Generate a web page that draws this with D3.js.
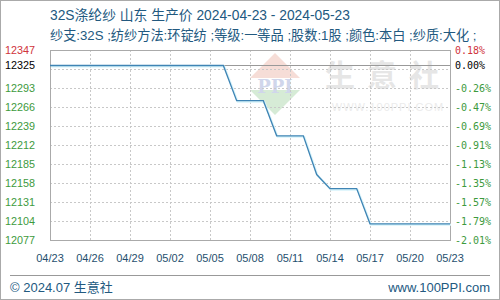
<!DOCTYPE html>
<html>
<head>
<meta charset="utf-8">
<script src="https://cdn.jsdelivr.net/npm/d3@7"></script>
<style>
  body { margin: 0; background: #fff; }
  svg { display: block; }
</style>
</head>
<body>
<svg width="500" height="300"></svg>
<script>
// data
var startDate = "2024-04-23";
var prices = [12325, 12325, 12325, 12325, 12325, 12325, 12325, 12325, 12325, 12325,
              12325, 12325, 12325, 12325, 12275, 12275, 12275, 12225, 12225, 12225,
              12170, 12150, 12150, 12150, 12100, 12100, 12100, 12100, 12100, 12100, 12100];
var yTicks = [12077, 12104, 12131, 12158, 12185, 12212, 12239, 12266, 12293, 12320, 12347];
// labelled values on both sides (12325 is the start price, 12320 has no label)
var yLabelVals = [12347, 12325, 12293, 12266, 12239, 12212, 12185, 12158, 12131, 12104, 12077];
var pctLabels = ["0.18%", "0.00%", "-0.26%", "-0.47%", "-0.69%", "-0.91%", "-1.13%", "-1.35%", "-1.57%", "-1.79%", "-2.01%"];
var xTickLabels = ["04/23", "04/26", "04/29", "05/02", "05/05", "05/08", "05/11", "05/14", "05/17", "05/20", "05/23"];
var baseValue = 12325;
var title = "32S涤纶纱 山东 生产价 2024-04-23 - 2024-05-23";
var subtitle = "纱支:32S ;纺纱方法:环锭纺 ;等级:一等品 ;股数:1股 ;颜色:本白 ;纱质:大化 ;";

var svg = d3.select("svg");
var plotLeft = 50, plotRight = 450, plotTop = 50, plotBottom = 240;

var parse = d3.timeParse("%Y-%m-%d");
var t0 = parse(startDate);
var series = prices.map(function(v, i) { return {date: d3.timeDay.offset(t0, i), value: v}; });

var x = d3.scaleTime()
    .domain([t0, d3.timeDay.offset(t0, prices.length - 1)])
    .range([plotLeft, plotRight]);
var y = d3.scaleLinear()
    .domain([yTicks[0], yTicks[yTicks.length - 1]])
    .range([plotBottom, plotTop]);

var fontCN = "'Liberation Sans', 'Noto Sans CJK SC', sans-serif";

// outer frame
svg.append("rect")
    .attr("x", 0.5).attr("y", 0.5).attr("width", 499).attr("height", 299)
    .attr("fill", "#fff").attr("stroke", "#aaa");

// title lines
svg.append("text")
    .attr("x", 50).attr("y", 20)
    .attr("font-family", fontCN).attr("font-size", 13.8)
    .attr("fill", "#22597f")
    .text(title);
svg.append("text")
    .attr("x", 50).attr("y", 40)
    .attr("font-family", fontCN).attr("font-size", 13.2)
    .attr("fill", "#22597f")
    .text(subtitle);

// watermark
var wm = svg.append("g").attr("opacity", 0.35);
wm.append("path")
    .attr("d", "M275,53 L300,78 L250,78 Z")
    .attr("fill", "#e8a090");
wm.append("path")
    .attr("d", "M250,90 L300,90 L275,115 Z")
    .attr("fill", "#8cc88c");
wm.append("text")
    .attr("x", 275).attr("y", 93)
    .attr("text-anchor", "middle")
    .attr("font-family", "'DejaVu Serif', serif").attr("font-weight", "bold")
    .attr("font-size", 18).attr("fill", "#7a8cc8")
    .text("PPI");
wm.append("text")
    .attr("x", 388).attr("y", 86)
    .attr("text-anchor", "middle")
    .attr("font-family", "'Noto Sans CJK SC', sans-serif").attr("font-weight", "bold")
    .attr("font-size", 30).attr("letter-spacing", 12).attr("fill", "#b8b8b8")
    .text("生意社");
wm.append("text")
    .attr("x", 388).attr("y", 111)
    .attr("text-anchor", "middle")
    .attr("font-family", "'Liberation Sans', sans-serif")
    .attr("font-size", 11).attr("letter-spacing", 1).attr("fill", "#c8c8c8")
    .text("WWW.100PPI.COM");

// grid
var grid = svg.append("g");
grid.selectAll(".hg")
    .data(yTicks.slice(1, -1))
    .enter().append("line")
    .attr("x1", plotLeft).attr("x2", plotRight)
    .attr("y1", function(d) { return Math.round(y(d)) + 0.5; })
    .attr("y2", function(d) { return Math.round(y(d)) + 0.5; })
    .attr("stroke", "#c8c8c8").attr("stroke-dasharray", "2,2");
var xTickDates = xTickLabels.map(function(d, i) { return d3.timeDay.offset(t0, i * 3); });
grid.selectAll(".vg")
    .data(xTickDates.slice(1, -1))
    .enter().append("line")
    .attr("y1", plotTop).attr("y2", plotBottom)
    .attr("x1", function(d) { return Math.round(x(d)) + 0.5; })
    .attr("x2", function(d) { return Math.round(x(d)) + 0.5; })
    .attr("stroke", "#c8c8c8").attr("stroke-dasharray", "2,2");

// base line at the first value
svg.append("line")
    .attr("x1", plotLeft).attr("x2", plotRight)
    .attr("y1", Math.round(y(baseValue)) + 0.5).attr("y2", Math.round(y(baseValue)) + 0.5)
    .attr("stroke", "#999");

// plot frame
svg.append("rect")
    .attr("x", plotLeft + 0.5).attr("y", plotTop + 0.5)
    .attr("width", plotRight - plotLeft).attr("height", plotBottom - plotTop)
    .attr("fill", "none").attr("stroke", "#aaa");

// price line
var line = d3.line()
    .x(function(d) { return x(d.date); })
    .y(function(d) { return y(d.value); });
svg.append("path")
    .datum(series)
    .attr("d", line)
    .attr("transform", "translate(1,1)")
    .attr("fill", "none").attr("stroke", "#d8f4fb").attr("stroke-width", 2);
svg.append("path")
    .datum(series)
    .attr("d", line)
    .attr("fill", "none").attr("stroke", "#3f84b4").attr("stroke-width", 1.3);

// y labels
function tickColor(v) {
    if (v > baseValue) return "#d0343c";
    if (v === baseValue) return "#000";
    return "#3d9a3d";
}
svg.append("g").selectAll("text")
    .data(yLabelVals)
    .enter().append("text")
    .attr("x", 5)
    .attr("y", function(d) { return y(d) + 4; })
    .attr("font-family", "'Liberation Sans', sans-serif").attr("font-size", 10.8)
    .attr("fill", tickColor)
    .text(function(d) { return d; });

svg.append("g").selectAll("text")
    .data(yLabelVals)
    .enter().append("text")
    .attr("x", 455)
    .attr("y", function(d) { return y(d) + 4; })
    .attr("font-family", "'DejaVu Sans Mono', monospace").attr("font-size", 10)
    .attr("fill", tickColor)
    .text(function(d, i) { return pctLabels[i]; });

// x labels
svg.append("g").selectAll("text")
    .data(xTickDates)
    .enter().append("text")
    .attr("x", function(d) { return x(d); })
    .attr("y", 262)
    .attr("text-anchor", "middle")
    .attr("font-family", "'Liberation Sans', sans-serif").attr("font-size", 11)
    .attr("fill", "#1f4f6e")
    .text(function(d, i) { return xTickLabels[i]; });

// footer
svg.append("line")
    .attr("x1", 10).attr("x2", 490).attr("y1", 275.5).attr("y2", 275.5)
    .attr("stroke", "#999");
svg.append("text")
    .attr("x", 10).attr("y", 292)
    .attr("font-family", fontCN).attr("font-size", 13)
    .attr("fill", "#22597f")
    .text("© 2024.07 生意社");
svg.append("text")
    .attr("x", 490).attr("y", 292)
    .attr("text-anchor", "end")
    .attr("font-family", fontCN).attr("font-size", 13)
    .attr("fill", "#22597f")
    .text("www.100PPI.com");
</script>
</body>
</html>
